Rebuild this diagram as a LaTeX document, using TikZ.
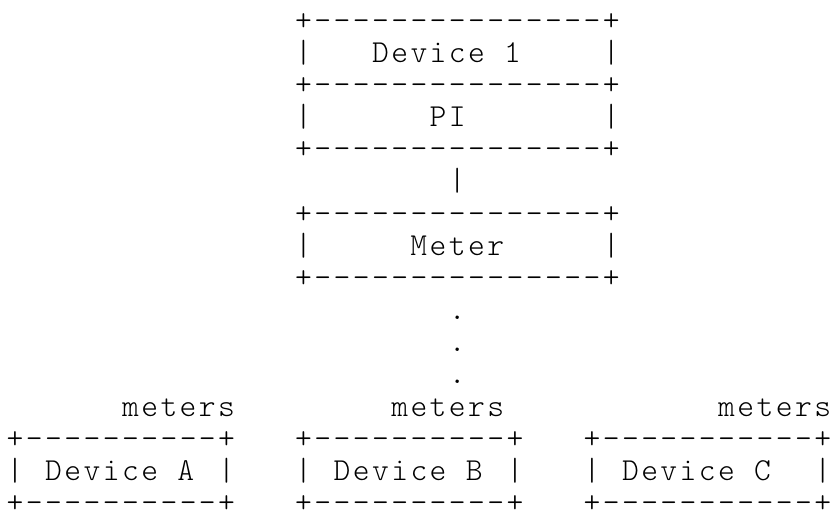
\documentclass[tikz,border=0pt]{standalone}
\usepackage{fontspec}
\setmonofont{lmmonolt10-regular.otf}[LetterSpace=7.6]

\begin{document}
\begin{tikzpicture}[x=0.75pt,y=0.75pt,yscale=-1,xscale=1,
  ascii/.style={anchor=base west,inner sep=0pt,font=\ttfamily\fontsize{24}{24}\selectfont}]
\path[use as bounding box] (0,0) rectangle (833,510); %set diagram to 833 x 510

% Box: Device 1 / PI
\draw (294.85,30.2) node (onetop) [ascii] {+---------------+};
\draw (294.85,62.35) node (oneleft) [ascii] {|};
\draw (371.77,62.35) node (onelabel) [ascii] {Device 1};
\draw (602.53,62.35) node (oneright) [ascii] {|};
\draw (294.85,94.5) node (onemid) [ascii] {+---------------+};
\draw (294.85,126.65) node (pileft) [ascii] {|};
\draw (429.46,126.65) node (pilabel) [ascii] {PI};
\draw (602.53,126.65) node (piright) [ascii] {|};
\draw (294.85,158.8) node (pibot) [ascii] {+---------------+};
% Link
\draw (448.69,190.95) node (link) [ascii] {|};
% Box: Meter
\draw (294.85,223.1) node (metertop) [ascii] {+---------------+};
\draw (294.85,255.25) node (meterleft) [ascii] {|};
\draw (410.23,255.25) node (meterlabel) [ascii] {Meter};
\draw (602.53,255.25) node (meterright) [ascii] {|};
\draw (294.85,287.4) node (meterbot) [ascii] {+---------------+};
% Dots
\draw (448.69,319.55) node (dota) [ascii] {.};
\draw (448.69,351.7) node (dotb) [ascii] {.};
\draw (448.69,383.85) node (dotc) [ascii] {.};
% Text Node
\draw (121.78,416) node (metersa) [ascii] {meters};
\draw (391.0,416) node (metersb) [ascii] {meters};
\draw (717.91,416) node (metersc) [ascii] {meters};
% Box: Device A
\draw (6.4,448.15) node (atop) [ascii] {+----------+};
\draw (6.4,480.3) node (aleft) [ascii] {|};
\draw (44.86,480.3) node (alabel) [ascii] {Device A};
\draw (217.93,480.3) node (aright) [ascii] {|};
\draw (6.4,512.45) node (abot) [ascii] {+----------+};
% Box: Device B
\draw (294.85,448.15) node (btop) [ascii] {+----------+};
\draw (294.85,480.3) node (bleft) [ascii] {|};
\draw (333.31,480.3) node (blabel) [ascii] {Device B};
\draw (506.38,480.3) node (bright) [ascii] {|};
\draw (294.85,512.45) node (bbot) [ascii] {+----------+};
% Box: Device C
\draw (583.3,448.15) node (ctop) [ascii] {+-----------+};
\draw (583.3,480.3) node (cleft) [ascii] {|};
\draw (621.76,480.3) node (clabel) [ascii] {Device C};
\draw (814.06,480.3) node (cright) [ascii] {|};
\draw (583.3,512.45) node (cbot) [ascii] {+-----------+};
\end{tikzpicture}
\end{document}
